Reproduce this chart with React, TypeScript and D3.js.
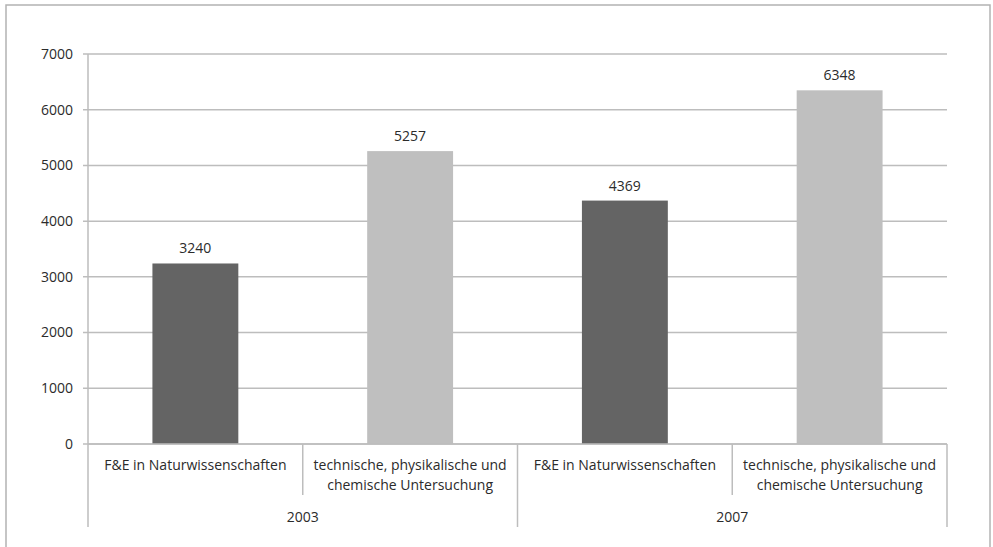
import { useEffect, useRef } from "react";
import * as d3 from "d3";

const years = ["2003", "2007"];
const categories = ["F&E in Naturwissenschaften", "technische, physikalische und\nchemische Untersuchung"];
const values = [3240, 5257, 4369, 6348];
const yTicks = [0, 1000, 2000, 3000, 4000, 5000, 6000, 7000];
const barColors = ["#646464", "#bfbfbf"];

export default function App() {
  const ref = useRef<SVGSVGElement>(null);

  useEffect(() => {
    const el = ref.current;
    if (!el) return;
    const W = 993, H = 547;
    const M = { top: 54, right: 46, bottom: 103, left: 88 };
    const svg = d3.select(el);
    svg.selectAll("*").remove();
    const font = "Open Sans, Lato, sans-serif";
    const fs = 14;
    const txt = "#2b2b2b";
    const grid = "#bdbdbd";

    svg.append("rect").attr("x", 6).attr("y", 5).attr("width", 984).attr("height", 560)
      .attr("fill", "#fff").attr("stroke", "#b3b3b3").attr("stroke-width", 1.5);

    const keys = years.flatMap((y) => categories.map((c) => `${y}|${c}`));
    const x = d3.scaleBand<string>().domain(keys).range([M.left, W - M.right]).paddingInner(0).paddingOuter(0);
    const y = d3.scaleLinear().domain([0, 7000]).range([H - M.bottom, M.top]);
    const x0 = x.range()[0], x1 = x.range()[1];

    // gridlines + ticks
    svg.append("g").selectAll("line").data(yTicks).join("line")
      .attr("x1", x0 - 5).attr("x2", x1).attr("y1", (d) => y(d)).attr("y2", (d) => y(d))
      .attr("stroke", grid).attr("stroke-width", 1.5);
    svg.append("g").selectAll("text").data(yTicks).join("text")
      .attr("x", x0 - 15).attr("y", (d) => y(d)).attr("dy", "0.35em").attr("text-anchor", "end")
      .attr("fill", txt).attr("font-size", fs).attr("font-family", font).text((d) => d);

    // y axis line
    svg.append("line").attr("x1", x0).attr("x2", x0).attr("y1", y(7000)).attr("y2", y(0))
      .attr("stroke", grid).attr("stroke-width", 1.5);

    const bw = x.bandwidth() * 0.4;
    svg.append("g").selectAll("rect").data(values).join("rect")
      .attr("x", (_, i) => (x(keys[i]) ?? 0) + (x.bandwidth() - bw) / 2)
      .attr("y", (d) => y(d)).attr("width", bw).attr("height", (d) => y(0) - y(d))
      .attr("fill", (_, i) => barColors[i % 2]);
    svg.append("g").selectAll("text").data(values).join("text")
      .attr("x", (_, i) => (x(keys[i]) ?? 0) + x.bandwidth() / 2).attr("y", (d) => y(d) - 10)
      .attr("text-anchor", "middle").attr("fill", txt).attr("font-size", fs).attr("font-family", font)
      .text((d) => d);

    // category axis
    const base = y(0);
    svg.append("line").attr("x1", x0).attr("x2", x1).attr("y1", base).attr("y2", base)
      .attr("stroke", grid).attr("stroke-width", 1.5);
    const bounds = d3.range(keys.length + 1);
    svg.append("g").selectAll("line").data(bounds).join("line")
      .attr("x1", (i) => x0 + i * x.bandwidth()).attr("x2", (i) => x0 + i * x.bandwidth())
      .attr("y1", base).attr("y2", (i) => (i % 2 === 0 ? 527 : 495))
      .attr("stroke", grid).attr("stroke-width", 1.5);

    const catG = svg.append("g");
    keys.forEach((k, i) => {
      const lines = categories[i % 2].split("\n");
      const t = catG.append("text").attr("text-anchor", "middle").attr("fill", txt)
        .attr("font-size", fs).attr("font-family", font);
      lines.forEach((l, j) => {
        t.append("tspan").attr("x", (x(k) ?? 0) + x.bandwidth() / 2).attr("y", 465 + j * 20)
          .attr("dy", "0.35em").text(l);
      });
    });
    svg.append("g").selectAll("text").data(years).join("text")
      .attr("x", (_, i) => x0 + (i * 2 + 1) * x.bandwidth()).attr("y", 517).attr("dy", "0.35em")
      .attr("text-anchor", "middle").attr("fill", txt).attr("font-size", fs).attr("font-family", font)
      .text((d) => d);
  }, []);

  return (
    <svg ref={ref} width={993} height={547} style={{ position: "absolute", left: 0, top: 0 }} />
  );
}
